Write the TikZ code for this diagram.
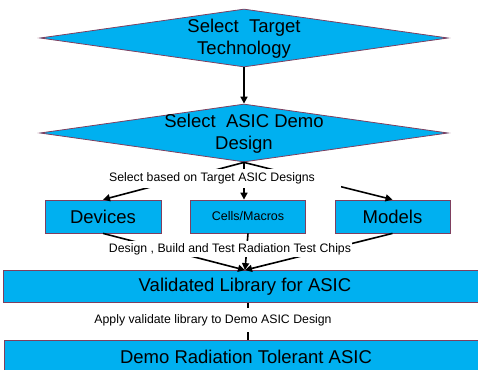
\documentclass[tikz,border=0pt]{standalone}
\usepackage{fontspec}
\setmainfont{Liberation Sans}
\usetikzlibrary{shapes.geometric,arrows.meta}
\definecolor{boxcol}{HTML}{00B0F0}
\definecolor{edgecol}{HTML}{7F3F5F}

\begin{document}
\begin{tikzpicture}[x=1pt,y=-1pt,
    decision/.style={diamond,draw=edgecol,fill=boxcol,line width=0.8pt,minimum width=408pt,minimum height=58pt,inner sep=0pt},
    box/.style={rectangle,draw=edgecol,fill=boxcol,line width=0.8pt,inner sep=0pt},
    big/.style={font=\fontsize{18.5}{22}\selectfont,align=center},
    small/.style={font=\fontsize{12.5}{15}\selectfont},
    note/.style={font=\fontsize{12.3}{14}\selectfont,fill=white,inner xsep=1pt,inner ysep=1pt},
    flow/.style={line width=1.6pt,-{Triangle[length=7pt,width=7pt]}}]
    \useasboundingbox (0,0) rectangle (478,369);
    \node[decision] (tech) at (244,38) {};
    \node[big] (techtxt) at (244,39) {Select\ \ Target\\Technology};
    \node[decision] (asic) at (244,133) {};
    \node[big] (asictxt) at (244,133.5) {Select\ \ ASIC Demo\\Design};
    \node[box,big,minimum width=116pt,minimum height=33pt] (dev) at (103,216.5) {Devices};
    \node[box,small,minimum width=115pt,minimum height=33pt] (cells) at (248,216.5) {Cells/Macros};
    \node[box,big,minimum width=115pt,minimum height=33pt] (models) at (392.5,216.5) {Models};
    \node[box,big,minimum width=484pt,minimum height=32pt] (valid) at (245,286.5) {Validated Library for ASIC};
    \node[box,big,minimum width=484pt,minimum height=34pt] (demo) at (246,357) {Demo Radiation Tolerant ASIC};
    \draw[flow] (tech) -- (asic);
    \draw[flow] (asic.south) -- (dev.north);
    \draw[flow] (asic.south) -- (asic.south |- cells.north);
    \draw[flow] (asic.south) -- (models.north);
    \node[note,inner xsep=26pt,inner ysep=3.5pt] (sel) at (212,178.5) {Select based on Target ASIC Designs};
    \draw[flow] (dev.south) -- (valid.north);
    \draw[flow] (cells.south) -- (valid.north);
    \draw[flow] (models.south) -- (valid.north);
    \node[note,inner ysep=2pt] (build) at (230,249) {Design , Build and Test Radiation Test Chips};
    \draw[line width=1.6pt] ([xshift=3pt]valid.south) -- ([xshift=3pt]valid.south |- demo.north);
    \node[note,inner ysep=6pt] (apply) at (213,320) {Apply validate library to Demo ASIC Design};
\end{tikzpicture}
\end{document}
